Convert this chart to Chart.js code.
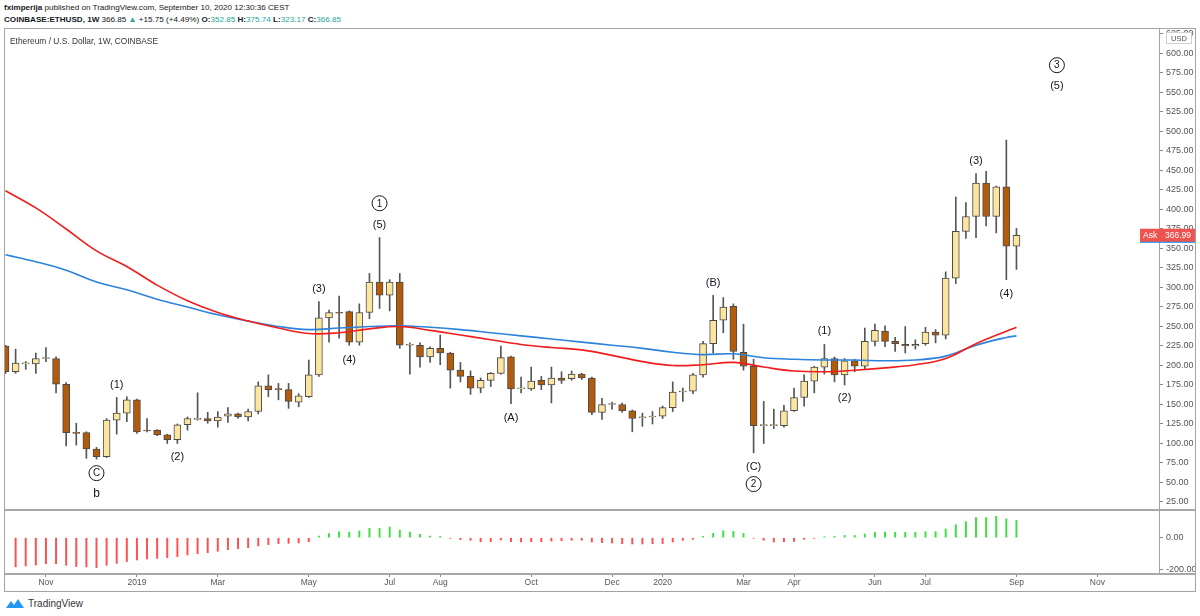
<!DOCTYPE html>
<html>
<head>
<meta charset="utf-8">
<script src="https://cdn.jsdelivr.net/npm/chart.js@4.4.1/dist/chart.umd.min.js"></script>
<style>
    body { margin: 0; width: 1200px; height: 616px; background: #fff; position: relative; overflow: hidden;
           font-family: "Liberation Sans", Arial, sans-serif; color: #131722; }
    .hdr { position: absolute; left: 4px; white-space: nowrap; font-size: 8.1px; }
    #hdr1 { top: 3px; }
    #hdr2 { top: 15px; }
    .up { color: #26a69a; }
    #frame { position: absolute; left: 4px; top: 28px; width: 1192px; height: 564px; box-sizing: border-box; border: 1px solid #a3a3a3; }
    #legendTxt { position: absolute; left: 10px; top: 36px; font-size: 8.4px; color: #333; }
    .hline { position: absolute; left: 4px; width: 1192px; height: 2px; background: #a8a8a8; }
    #mainCanvas { position: absolute; left: 5px; top: 29px; }
    #oscCanvas { position: absolute; left: 5px; top: 510px; }
    #footer { position: absolute; left: 5px; top: 597px; font-size: 10px; color: #333; display: flex; align-items: center; gap: 3px; }
</style>
</head>
<body>
<div class="hdr" id="hdr1"><b>fximperija</b> published on TradingView.com, September 10, 2020 12:30:36 CEST</div>
<div class="hdr" id="hdr2"><b>COINBASE:ETHUSD, 1W</b> 366.85 <span class="up">&#9650;</span> +15.75 (+4.49%) <b>O:</b><span class="up">352.85</span> <b>H:</b><span class="up">375.74</span> <b>L:</b><span class="up">323.17</span> <b>C:</b><span class="up">366.85</span></div>
<div id="frame"></div>
<canvas id="mainCanvas" width="1190" height="481"></canvas>
<canvas id="oscCanvas" width="1190" height="80"></canvas>
<div class="hline" style="top:509px"></div>
<div class="hline" style="top:573px"></div>
<div id="legendTxt">Ethereum / U.S. Dollar, 1W, COINBASE</div>
<div id="footer">
    <svg width="20" height="12" viewBox="0 0 20 12"><path d="M1 11 L6 4 L9 8 L13 2 L19 11 Z" fill="#2196f3"/></svg>
    <span>TradingView</span>
</div>
<script>
// weekly candles, index 0 = week of 2018-10-08, index 100 = week of 2020-09-07
const opens = [225,192,202,202,209,209,176,114,114,93, 83,130,139,156,117,117,111,105,124,131,
               132,129,135,138,134,141,174,170,169,153, 160,188,261,268,269,230,268,307,290,307,
               226,226,211,222,216,194,186,171,181,190, 211,170,170,181,175,184,183,189,184,140,
               150,150,142,133,134,135,146,166,167,188, 228,258,276,217,199,123,123,123,142,159,
               180,198,209,188,206,199,231,244,231,227, 225,228,243,239,312,372,391,434,391,429, 352.85];
const highs = [226,221,205,216,223,211,178,126,115,95, 132,159,160,157,132,118,112,125,134,165,
               140,141,146,139,144,179,188,177,177,164, 207,282,271,289,270,279,318,364,310,318,
               229,229,224,239,217,204,193,184,191,225, 212,185,198,186,198,192,193,190,185,158,
               153,152,143,139,141,148,179,171,190,231, 290,287,279,253,208,154,144,149,171,188,
               199,227,211,209,208,248,253,251,236,250, 233,249,246,320,416,409,446,449,430,489, 375.74];
const lows = [190,190,195,190,205,165,97,98,81,80, 82,112,128,113,115,110,100,100,117,130,
              126,121,127,132,129,138,160,156,145,147, 159,186,230,235,226,226,260,273,270,222,
              189,198,204,201,171,179,163,165,173,189, 151,165,168,169,152,177,181,182,137,131,
              144,140,115,122,125,132,141,154,164,185, 216,242,208,194,88,100,119,121,141,148,
              165,189,179,175,192,196,225,224,218,216, 221,226,229,234,305,363,364,379,370,310, 323.17];
const closes = [192,203,203,209,210,176,114,113,93,83, 130,139,156,115,116,111,105,124,132,132,
                129,134,138,134,141,174,169,169,154,161, 188,261,268,267,230,268,307,290,307,226,
                226,211,222,216,194,186,171,181,190,210, 170,170,180,175,184,181,189,184,140,150,
                150,142,132,134,135,146,166,167,188,228, 258,275,218,199,123,123,124,142,159,180,
                198,209,188,206,199,231,245,231,228,225, 227,243,239,312,372,391,434,391,429,353, 366.85];

// moving averages read every third week
const maIdx  = [0,3,6,9,12,15,18,21,24,27,30,33,36,39,42,45,48,51,54,57,60,63,66,69,72,75,78,81,84,87,90,93,96,99,100];
const maRed  = [424,402,375,347,327,303,283,268,257,248,241,242,247,250,245,239,233,227,223,220,213,205,200,201,204,198,193,192,194,197,201,209,228,244,249];
const maBlue = [342,333,322,307,297,285,275,265,257,250,246,248,250,251,249,246,242,238,234,230,226,222,217,214,215,210,208,207,207,206,207,212,226,236,238];

// oscillator histogram, weeks 1..100
const osc = [null,-181,-175,-169,-161,-161,-171,-179,-181,-185,-171,-159,-148,-138,-132,-128,-124,-117,-107,-99,
             -93,-84,-74,-68,-62,-51,-43,-37,-35,-33,-25,10,25,37,35,41,58,58,66,47,
             35,21,10,8,-4,-12,-16,-25,-25,-14,-25,-27,-25,-25,-21,-19,-16,-16,-27,-31,
             -33,-37,-39,-39,-37,-37,-27,-16,-10,8,27,43,39,27,-4,-16,-27,-25,-23,-10,
             -4,6,8,14,14,23,33,35,33,33,33,37,37,54,80,99,124,124,132,117,107];

const priceTicks = [25,50,75,100,125,150,175,200,225,250,275,300,325,350,375,400,425,450,475,500,525,550,575,600,625];
const oscTicks = [0, -200];
const monthIdx = [4,13,21,30,38,43,52,60,65,73,78,86,91,100,108];
const monthLabels = ['Nov','2019','Mar','May','Jul','Aug','Oct','Dec','2020','Mar','Apr','Jun','Jul','Sep','Nov'];

// wave labels
const waveText    = ['(1)','C','b','(2)','(3)','(4)','1','(5)','(A)','(B)','(C)','2','(1)','(2)','(3)','(4)','3','(5)'];
const waveIdx     = [11,9,9,17,31,34,37,37,50,70,74,74,81,83,96,99,104,104];
const wavePrice   = [176,62,36,83,299,208,408,381,134,307,71,48,245,159,463,292,585,559];
const waveCircled = [false,true,false,false,false,false,true,false,false,false,false,true,false,false,false,false,true,false];

const askPrice = 366.99;
const bidPrice = 358.5;

const X_MIN = -0.05, X_MAX = 114.1;
const fontFam = '"Liberation Sans", Arial, sans-serif';
const bullFill = '#fbe59f', bearFill = '#b25b0a';

const idx = opens.map((_, i) => i);

const waveLabels = {
    id: 'waveLabels',
    afterDatasetsDraw(chart) {
        const { ctx, scales: { x, y } } = chart;
        ctx.save();
        ctx.fillStyle = '#131722';
        ctx.strokeStyle = '#131722';
        ctx.textAlign = 'center';
        ctx.textBaseline = 'middle';
        waveText.forEach((t, i) => {
            const px = x.getPixelForValue(waveIdx[i]);
            const py = y.getPixelForValue(wavePrice[i]);
            ctx.font = (t === 'b' ? '12px ' : '11px ') + fontFam;
            if (waveCircled[i]) {
                ctx.beginPath();
                ctx.arc(px, py, 7.5, 0, Math.PI * 2);
                ctx.lineWidth = 1;
                ctx.stroke();
                ctx.font = '10px ' + fontFam;
            }
            ctx.fillText(t, px, py + 0.5);
        });
        ctx.restore();
    },
    afterDraw(chart) {
        const { ctx, scales: { y } } = chart;
        ctx.save();
        // USD box
        ctx.fillStyle = '#fff';
        ctx.strokeStyle = '#d0d0d0';
        ctx.fillRect(1161, 3, 26, 12);
        ctx.strokeRect(1161.5, 3.5, 25, 11);
        ctx.fillStyle = '#555';
        ctx.font = '7.5px ' + fontFam;
        ctx.textAlign = 'center';
        ctx.textBaseline = 'middle';
        ctx.fillText('USD', 1174, 9.5);
        // ask / bid marks
        const ay = y.getPixelForValue(askPrice);
        const by = y.getPixelForValue(bidPrice);
        ctx.fillStyle = '#2196f3';
        ctx.fillRect(1135, by - 1, 55, 2);
        ctx.fillStyle = '#ef5350';
        ctx.fillRect(1135, ay - 6.5, 55, 13);
        ctx.fillStyle = '#fff';
        ctx.textAlign = 'left';
        ctx.font = '8.5px ' + fontFam;
        ctx.fillText('Ask', 1138, ay + 0.5);
        ctx.fillText(askPrice.toFixed(2), 1160, ay + 0.5);
        ctx.restore();
    }
};

new Chart(document.getElementById('mainCanvas'), {
    type: 'bar',
    data: {
        datasets: [
            {
                type: 'line',
                data: maIdx.map((x, i) => ({ x, y: maRed[i] })),
                borderColor: '#f01d1d',
                borderWidth: 1.6,
                pointRadius: 0,
                tension: 0.4,
                order: -2
            },
            {
                type: 'line',
                data: maIdx.map((x, i) => ({ x, y: maBlue[i] })),
                borderColor: '#2b83dc',
                borderWidth: 1.6,
                pointRadius: 0,
                tension: 0.4,
                order: -1
            },
            {
                data: idx.map(i => ({ x: i, y: [opens[i], closes[i]] })),
                backgroundColor: idx.map(i => closes[i] >= opens[i] ? bullFill : bearFill),
                borderColor: '#4a4a4a',
                borderWidth: 1,
                borderSkipped: false,
                barThickness: 7,
                minBarLength: 1,
                grouped: false,
                order: 0
            },
            {
                data: idx.map(i => ({ x: i, y: [lows[i], highs[i]] })),
                backgroundColor: '#555',
                barThickness: 1,
                grouped: false,
                order: 1
            }
        ]
    },
    options: {
        responsive: false,
        animation: false,
        events: [],
        layout: { padding: 0 },
        plugins: { legend: { display: false }, tooltip: { enabled: false } },
        scales: {
            x: { type: 'linear', min: X_MIN, max: X_MAX, offset: false, display: false },
            y: {
                position: 'right',
                min: 14.74,
                max: 631.4,
                afterBuildTicks: (s) => { s.ticks = priceTicks.map(v => ({ value: v })); },
                afterFit: (s) => { s.width = 36; s.paddingTop = 0; s.paddingBottom = 0; },
                ticks: { callback: (v) => v.toFixed(2), color: '#555', font: { size: 9, family: fontFam }, padding: 3 },
                grid: { drawOnChartArea: false, tickLength: 4, color: '#888' },
                border: { color: '#a3a3a3' }
            }
        }
    },
    plugins: [waveLabels]
});

new Chart(document.getElementById('oscCanvas'), {
    type: 'bar',
    data: {
        datasets: [{
            data: idx.map(i => ({ x: i, y: osc[i] })),
            backgroundColor: idx.map(i => osc[i] >= 0 ? '#3ede3e' : '#ff4f4f'),
            barThickness: 1.3
        }]
    },
    options: {
        responsive: false,
        animation: false,
        events: [],
        layout: { padding: 0 },
        plugins: { legend: { display: false }, tooltip: { enabled: false } },
        scales: {
            x: {
                type: 'linear',
                min: X_MIN,
                max: X_MAX,
                offset: false,
                afterBuildTicks: (s) => { s.ticks = monthIdx.map(v => ({ value: v })); },
                afterFit: (s) => { s.height = 16; s.paddingLeft = 0; s.paddingRight = 0; },
                ticks: {
                    autoSkip: false, maxRotation: 0, padding: 1,
                    callback: (v) => monthLabels[monthIdx.indexOf(v)],
                    color: '#555', font: { size: 8.5, family: fontFam }
                },
                grid: { drawOnChartArea: false, tickLength: 3, color: '#888', offset: false },
                border: { display: false }
            },
            y: {
                position: 'right',
                min: -224.8,
                max: 171.5,
                afterBuildTicks: (s) => { s.ticks = oscTicks.map(v => ({ value: v })); },
                afterFit: (s) => { s.width = 36; s.paddingTop = 0; s.paddingBottom = 0; },
                ticks: { callback: (v) => v.toFixed(2), color: '#555', font: { size: 9, family: fontFam }, padding: 3 },
                grid: { drawOnChartArea: false, tickLength: 4, color: '#888' },
                border: { color: '#a3a3a3' }
            }
        }
    }
});
</script>
</body>
</html>
